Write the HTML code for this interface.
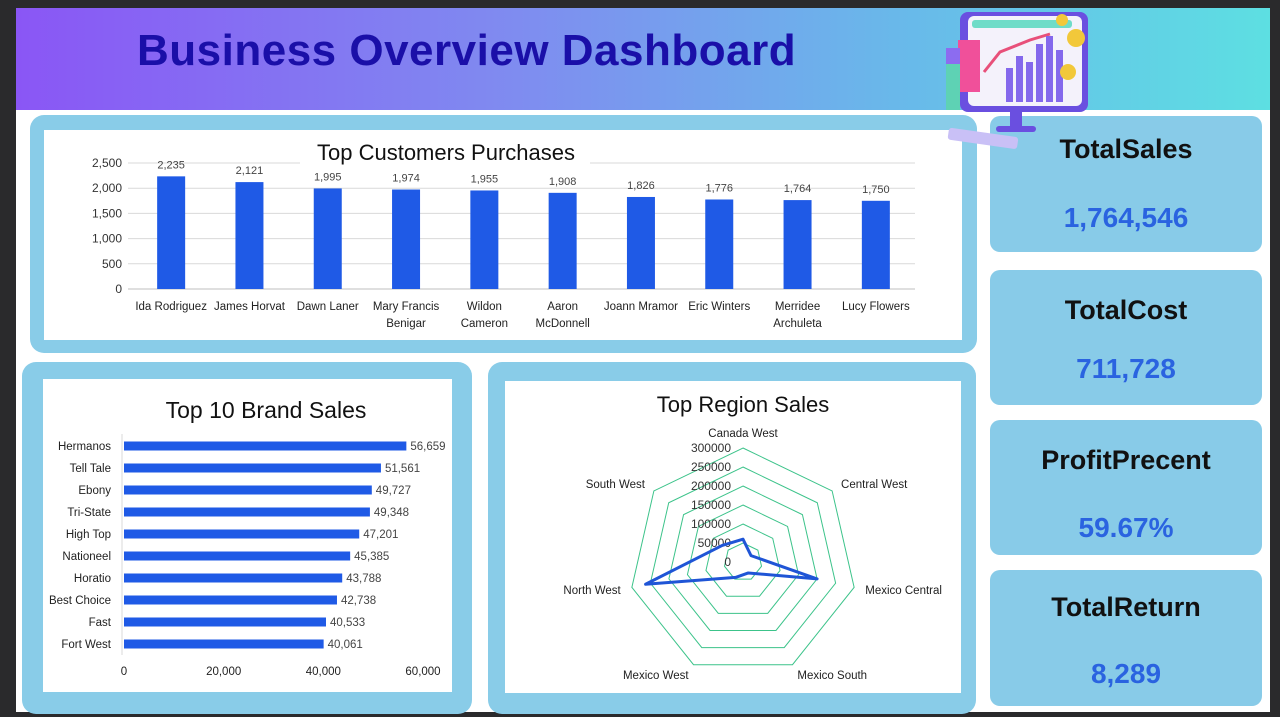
<!DOCTYPE html>
<html><head><meta charset="utf-8"><style>
*{margin:0;padding:0;box-sizing:border-box}
body{width:1280px;height:717px;background:#2a2a2c;position:relative;overflow:hidden;font-family:"Liberation Sans",sans-serif}
#main{position:absolute;left:16px;top:8px;width:1254px;height:704px;background:#fff}
#header{position:absolute;left:16px;top:8px;width:1254px;height:102px;background:linear-gradient(90deg,#8a56f5 0%,#7f8cf0 40%,#69b8ea 70%,#5ddfe2 100%)}
#title{position:absolute;left:137px;top:26px;font-size:44px;font-weight:bold;color:#1a0fa8;letter-spacing:0.5px}
.panel{position:absolute;background:#89cce8;border-radius:14px}
.inner{position:absolute;background:#fff}
.kpi{position:absolute;left:990px;width:272px;background:#88cbe8;border-radius:10px}
.kpi .lab{position:absolute;left:0;width:100%;text-align:center;font-size:27px;font-weight:bold;color:#111}
.kpi .val{position:absolute;left:0;width:100%;text-align:center;font-size:28px;font-weight:bold;color:#2a63e0}
svg text{font-family:"Liberation Sans",sans-serif}
</style></head><body>
<div id="main"></div>
<div id="header"></div>
<div id="title">Business Overview Dashboard</div>

<div class="panel" style="left:30px;top:115px;width:947px;height:238px"></div>
<div class="inner" style="left:44px;top:130px;width:918px;height:210px"></div>
<div class="panel" style="left:22px;top:362px;width:450px;height:352px"></div>
<div class="inner" style="left:43px;top:379px;width:409px;height:313px"></div>
<div class="panel" style="left:488px;top:362px;width:488px;height:352px"></div>
<div class="inner" style="left:505px;top:381px;width:456px;height:312px"></div>

<div class="kpi" style="top:116px;height:136px"><div class="lab" style="top:18px">TotalSales</div><div class="val" style="top:86px">1,764,546</div></div>
<div class="kpi" style="top:270px;height:135px"><div class="lab" style="top:25px">TotalCost</div><div class="val" style="top:83px">711,728</div></div>
<div class="kpi" style="top:420px;height:135px"><div class="lab" style="top:25px">ProfitPrecent</div><div class="val" style="top:92px">59.67%</div></div>
<div class="kpi" style="top:570px;height:136px"><div class="lab" style="top:22px">TotalReturn</div><div class="val" style="top:88px">8,289</div></div>

<svg style="position:absolute;left:940px;top:8px" width="160" height="150">
<rect x="20" y="4" width="128" height="100" rx="8" fill="#6a4fe0" transform="skew(-4)"/>
<rect x="28" y="8" width="114" height="90" rx="6" fill="#f4f2fb"/>
<rect x="32" y="12" width="100" height="8" rx="3" fill="#6fdcc8"/>
<rect x="18" y="32" width="22" height="52" fill="#f0509a"/>
<rect x="6" y="40" width="14" height="16" fill="#8c6cf0"/>
<rect x="6" y="56" width="14" height="46" fill="#5ed2b4"/>
<polyline points="44,64 60,44 90,32 110,26" stroke="#e8507a" stroke-width="3" fill="none"/>
<rect x="66" y="60" width="7" height="34" fill="#8468ec"/><rect x="76" y="48" width="7" height="46" fill="#8468ec"/><rect x="86" y="54" width="7" height="40" fill="#8468ec"/><rect x="96" y="36" width="7" height="58" fill="#8468ec"/><rect x="106" y="28" width="7" height="66" fill="#8468ec"/><rect x="116" y="42" width="7" height="52" fill="#8468ec"/>
<circle cx="136" cy="30" r="9" fill="#f2c83a"/><circle cx="128" cy="64" r="8" fill="#f2c83a"/><circle cx="122" cy="12" r="6" fill="#f2c83a"/>
<rect x="70" y="104" width="12" height="18" fill="#6a4fe0"/><rect x="56" y="118" width="40" height="6" rx="3" fill="#6a4fe0"/>
<rect x="8" y="124" width="70" height="12" rx="3" fill="#c9c0f6" transform="rotate(8 40 130)"/>
</svg>

<svg id="charts" style="position:absolute;left:0;top:0" width="1280" height="717"></svg>
<script>
const custNames=[["Ida  Rodriguez"],["James  Horvat"],["Dawn  Laner"],["Mary Francis","Benigar"],["Wildon","Cameron"],["Aaron","McDonnell"],["Joann  Mramor"],["Eric  Winters"],["Merridee","Archuleta"],["Lucy  Flowers"]];
const custValues=[2235,2121,1995,1974,1955,1908,1826,1776,1764,1750];
const custTicks=[0,500,1000,1500,2000,2500];
const brandNames=["Hermanos","Tell Tale","Ebony","Tri-State","High Top","Nationeel","Horatio","Best Choice","Fast","Fort West"];
const brandValues=[56659,51561,49727,49348,47201,45385,43788,42738,40533,40061];
const brandTicks=[0,20000,40000,60000];
const regionNames=["Canada West","Central West","Mexico Central","Mexico South","Mexico West","North West","South West"];
const regionValues=[60000,27000,200000,32000,45000,263000,70000];
const regionTicks=[0,50000,100000,150000,200000,250000,300000];

const svg=document.getElementById('charts');
const NS='http://www.w3.org/2000/svg';
function mk(tag,attrs,txt){const e=document.createElementNS(NS,tag);for(const k in attrs)e.setAttribute(k,attrs[k]);if(txt!==undefined)e.textContent=txt;svg.appendChild(e);return e;}
const fmt=v=>v.toLocaleString('en-US');

// customers chart
const cx0=132,cx1=915,cy0=289,cy1=163;
const cY=v=>cy0-(v/2500)*(cy0-cy1);
const band=(cx1-cx0)/custValues.length;
custTicks.forEach(t=>{
 const g=mk('line',{x1:cx0-4,x2:cx1,y1:cY(t),y2:cY(t),stroke:t?'#d9d9d9':'#bfbfbf'});
 
 
 const l=mk('text',{x:cx0-10,y:cY(t)+4,'text-anchor':'end','font-size':12,fill:'#333'},fmt(t));
 
 
});
mk('rect',{x:300,y:138,width:290,height:28,fill:'#fff'});
const ct=mk('text',{x:446,y:160,'text-anchor':'middle','font-size':22,fill:'#111'},'Top  Customers Purchases');


custValues.forEach((v,i)=>{
 const xc=cx0+band*(i+0.5);
 const b=mk('rect',{x:xc-14,y:cY(v),width:28,height:cy0-cY(v),fill:'#1f5ae6'});
 
 
 const lv=mk('text',{x:xc,y:cY(v)-8,'text-anchor':'middle','font-size':11,fill:'#444'},fmt(v));
 
 
 custNames[i].forEach((ln,j)=>{
  const tl=mk('text',{x:xc,y:310+j*17,'text-anchor':'middle','font-size':11.5,fill:'#222'},ln);
  
  
 });
});

// brand chart
const bx0=124,bx1=423,by0=446,bstep=22;
const bX=v=>bx0+(v/60000)*(bx1-bx0);
const btitle=mk('text',{x:266,y:418,'text-anchor':'middle','font-size':23,fill:'#111'},'Top 10 Brand Sales');


mk('line',{x1:bx0-2,x2:bx0-2,y1:434,y2:655,stroke:'#d9d9d9'});
brandValues.forEach((v,i)=>{
 const y=by0+i*bstep;
 const b=mk('rect',{x:bx0,y:y-4.5,width:bX(v)-bx0,height:9,fill:'#1f5ae6'});
 
 
 const n=mk('text',{x:111,y:y+4,'text-anchor':'end','font-size':11.5,fill:'#222'},brandNames[i]);
 
 
 const vl=mk('text',{x:bX(v)+4,y:y+4,'font-size':11.5,fill:'#444'},fmt(v));
 
 
});
brandTicks.forEach(t=>{
 const l=mk('text',{x:bX(t),y:675,'text-anchor':'middle','font-size':11.5,fill:'#222'},fmt(t));
 
 
});

// radar chart
const rcx=743,rcy=562,R=114,rmax=300000,N=regionNames.length;
const ang=i=>-Math.PI/2+i*2*Math.PI/N;
const rP=(v,i)=>[rcx+Math.cos(ang(i))*R*v/rmax,rcy+Math.sin(ang(i))*R*v/rmax];
const rtitle=mk('text',{x:743,y:412,'text-anchor':'middle','font-size':22,fill:'#111'},'Top Region Sales');


regionTicks.forEach(t=>{
 if(t>0){
  const pts=regionNames.map((_,i)=>rP(t,i).join(',')).join(' ');
  const p=mk('polygon',{points:pts,fill:'none',stroke:'#3cc38a','stroke-width':1});
  
  
 }
});
regionTicks.forEach(t=>{
 const l=mk('text',{x:rcx-12,y:rcy-(t/rmax)*R+4,'text-anchor':'end','font-size':12,fill:'#333'},String(t));
 
 
});
regionNames.forEach((n,i)=>{
 const [x,y]=rP(rmax*1.1,i);
 const c=Math.cos(ang(i));
 const l=mk('text',{x:x,y:y+4,'text-anchor':Math.abs(c)<0.2?'middle':(c>0?'start':'end'),'font-size':11.5,fill:'#222'},n);
 if(i===0)l.setAttribute('y',rcy-R-11);
 
 
});
const rp=mk('polygon',{points:regionValues.map((v,i)=>rP(v,i).join(',')).join(' '),fill:'none',stroke:'#1f55d6','stroke-width':3,'stroke-linejoin':'round'});


</script>
</body></html>
